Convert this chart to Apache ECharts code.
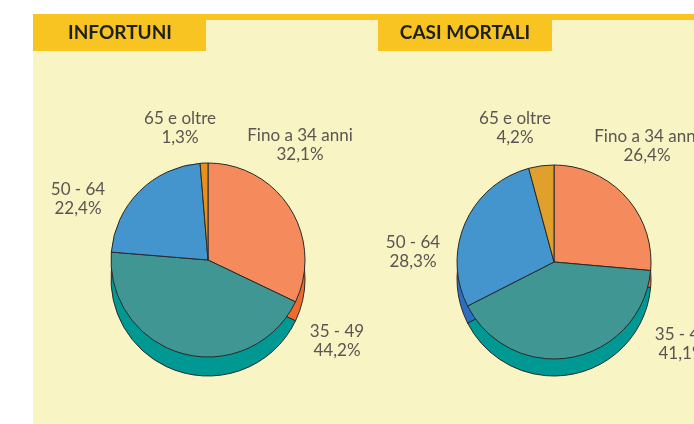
<!DOCTYPE html>
<html>
<head>
<meta charset="utf-8">
<script src="https://cdn.jsdelivr.net/npm/echarts@6/dist/echarts.min.js"></script>
<style>
  html, body { margin: 0; padding: 0; background: #fff; }
  #chart { width: 694px; height: 424px; }
</style>
</head>
<body>
<div id="chart"></div>
<script>
// age bands, same order in both pies (clockwise from 12 o'clock)
const ageBands = ['Fino a 34 anni', '35 - 49', '50 - 64', '65 e oltre'];
const infortuni = [32.1, 44.2, 22.4, 1.3];
const casiMortali = [26.4, 41.1, 28.3, 4.2];

const topColorsLeft = ['#f58b5c', '#3f9693', '#4494ce', '#e8901a'];
const topColorsRight = ['#f58b5c', '#3f9693', '#4494ce', '#e0a02c'];
const sideColors = ['#ee6a2e', '#009893', '#2a6fc2', '#c87812'];

// label block centres [x, y] per slice
const labelPosLeft = [[300, 145], [337, 341], [78, 199], [180, 128]];
const labelPosRight = [[647, 146], [682, 344], [413, 252], [515, 128]];

const chart = echarts.init(document.getElementById('chart'), null, { renderer: 'canvas' });

function pct(v) {
    return v.toFixed(1).replace('.', ',') + '%';
}

function toData(values, colors) {
    return values.map(function (v, i) {
        return { name: ageBands[i], value: v, itemStyle: { color: colors[i] } };
    });
}

function sidePie(values, center) {
    return {
        type: 'pie',
        silent: true,
        startAngle: 90,
        clockwise: true,
        radius: 97,
        center: center,
        avoidLabelOverlap: false,
        label: { show: false },
        labelLine: { show: false },
        itemStyle: { borderColor: '#2a2a2a', borderWidth: 1 },
        data: toData(values, sideColors),
        z: 1
    };
}

function topPie(values, colors, center, labelPos) {
    return {
        type: 'pie',
        startAngle: 90,
        clockwise: true,
        radius: 97,
        center: center,
        avoidLabelOverlap: false,
        itemStyle: { borderColor: '#2a2a2a', borderWidth: 1 },
        label: {
            show: true,
            position: 'outside',
            formatter: function (p) { return p.name + '\n' + pct(p.value); },
            fontFamily: 'Lato',
            fontSize: 17,
            lineHeight: 19,
            color: '#5a5552',
            align: 'center'
        },
        labelLine: { show: false },
        labelLayout: function (params) {
            const pos = labelPos[params.dataIndex];
            return { x: pos[0], y: pos[1], align: 'center', verticalAlign: 'middle' };
        },
        emphasis: { disabled: true },
        data: toData(values, colors),
        z: 2
    };
}

const option = {
    backgroundColor: '#ffffff',
    animation: false,
    graphic: [
        { type: 'rect', shape: { x: 33, y: 14, width: 661, height: 410 }, style: { fill: '#f8f4c4' }, z: -10 },
        { type: 'rect', shape: { x: 33, y: 14, width: 661, height: 6 }, style: { fill: '#f7c421' }, z: -9 },
        { type: 'rect', shape: { x: 33, y: 14, width: 173, height: 37 }, style: { fill: '#f7c421' }, z: -9 },
        { type: 'rect', shape: { x: 378, y: 14, width: 174, height: 37 }, style: { fill: '#f7c421' }, z: -9 },
        { type: 'text', x: 120, y: 33, style: { text: 'INFORTUNI', font: 'bold 19px Lato', fill: '#1f1f1f', align: 'center', verticalAlign: 'middle' }, z: -8 },
        { type: 'text', x: 465, y: 33, style: { text: 'CASI MORTALI', font: 'bold 19px Lato', fill: '#1f1f1f', align: 'center', verticalAlign: 'middle' }, z: -8 }
    ],
    series: [
        sidePie(infortuni, [208, 279]),
        topPie(infortuni, topColorsLeft, [208, 260], labelPosLeft),
        sidePie(casiMortali, [554, 279]),
        topPie(casiMortali, topColorsRight, [554, 262], labelPosRight)
    ]
};

chart.setOption(option);
</script>
</body>
</html>
